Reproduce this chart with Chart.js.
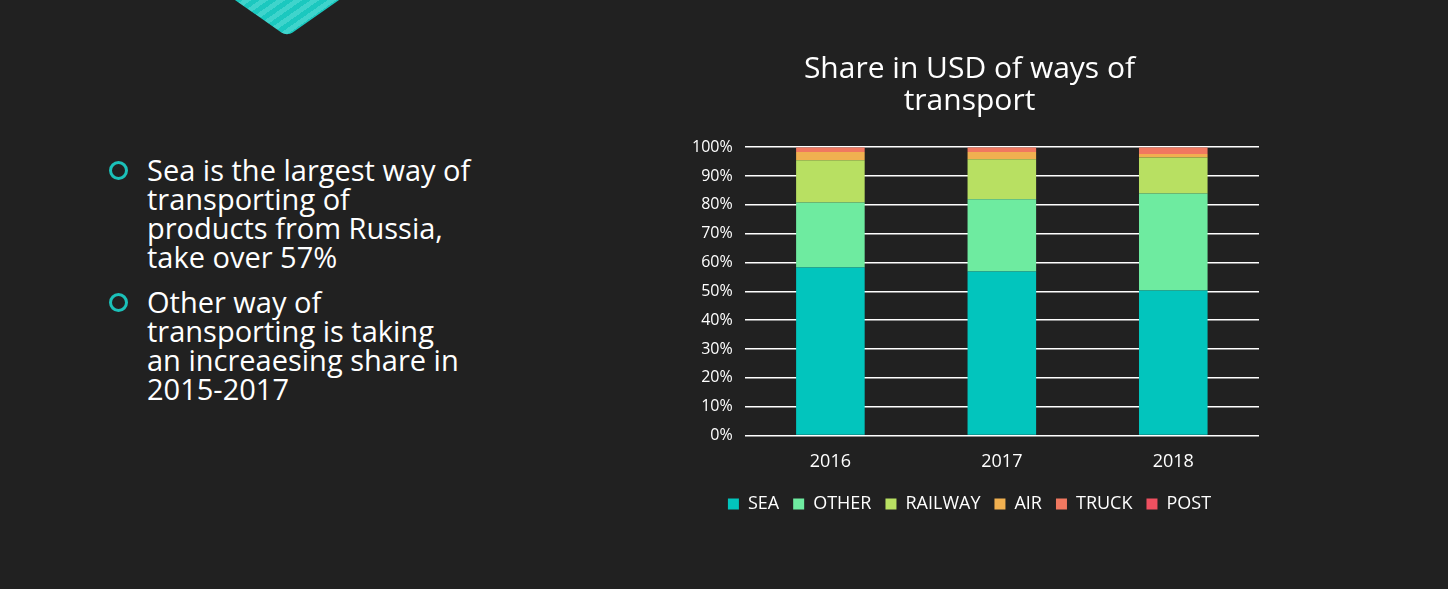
<!DOCTYPE html>
<html>
<head>
<meta charset="utf-8">
<script src="https://cdn.jsdelivr.net/npm/chart.js@4/dist/chart.umd.min.js"></script>
<style>
  html, body { margin: 0; padding: 0; }
  body {
    width: 1448px; height: 589px; overflow: hidden;
    background: #212121; position: relative;
    font-family: "Segoe Print", "Open Sans", sans-serif; color: #fff;
  }
  .deco {
    position: absolute; left: 232px; top: -73px; width: 110px; height: 110px;
    border-radius: 8px;
    background: repeating-linear-gradient(90deg, #1bc8bf 0 6px, #3fd4cc 6px 12px);
    transform: scaleY(0.7) rotate(45deg);
  }
  .bullets { position: absolute; left: 106px; top: 155px; width: 420px; }
  .item { position: relative; padding-left: 41px; font-size: 29px; line-height: 29px; margin-bottom: 16px; }
  .item::before {
    content: ""; position: absolute; left: 3px; top: 6px; width: 13px; height: 13px;
    border: 3px solid #1bc1b9; border-radius: 50%;
  }
  #wrap { position: absolute; left: 640px; top: 40px; width: 660px; height: 500px; }
</style>
</head>
<body>
<div class="deco"></div>
<div class="bullets">
  <div class="item">Sea is the largest way of<br>transporting of<br>products from Russia,<br>take over 57%</div>
  <div class="item">Other way of<br>transporting is taking<br>an increaesing share in<br>2015-2017</div>
</div>
<div id="wrap"><canvas id="chart"></canvas></div>
<script>
const years = ['2016', '2017', '2018'];
const sea = [58.3, 56.9, 50.3];
const other = [22.5, 25.0, 33.6];
const railway = [14.7, 13.9, 12.5];
const air = [2.8, 2.5, 1.2];
const truck = [1.7, 1.7, 2.4];
const post = [0.0, 0.0, 0.0];
const yTicks = [0, 10, 20, 30, 40, 50, 60, 70, 80, 90, 100];

const font = '"Segoe Print", "Open Sans", sans-serif';

const ctx = document.getElementById('chart').getContext('2d');
new Chart(ctx, {
  type: 'bar',
  data: {
    labels: years,
    datasets: [
      { label: 'SEA', data: sea, backgroundColor: '#02c5bd' },
      { label: 'OTHER', data: other, backgroundColor: '#6eeba0' },
      { label: 'RAILWAY', data: railway, backgroundColor: '#b8e062' },
      { label: 'AIR', data: air, backgroundColor: '#f0b050' },
      { label: 'TRUCK', data: truck, backgroundColor: '#f07860' },
      { label: 'POST', data: post, backgroundColor: '#ee5060' }
    ]
  },
  options: {
    responsive: true,
    maintainAspectRatio: false,
    animation: false,
    datasets: { bar: { barPercentage: 0.5, categoryPercentage: 0.8 } },
    layout: { padding: { left: 40, right: 41, top: 13, bottom: 17 } },
    plugins: {
      title: {
        display: true,
        text: ['Share in USD of ways of', 'transport'],
        color: '#ffffff',
        font: { family: font, size: 30, weight: 'normal', lineHeight: 1.07 },
        padding: { top: 0, bottom: 30 }
      },
      legend: {
        position: 'bottom',
        labels: {
          color: '#ffffff',
          boxWidth: 11, boxHeight: 11,
          padding: 14,
          font: { family: font, size: 18 }
        }
      },
      tooltip: { enabled: false }
    },
    scales: {
      x: {
        stacked: true,
        grid: { display: false },
        border: { display: false },
        ticks: { color: '#ffffff', padding: 8, font: { family: font, size: 18 } }
      },
      y: {
        stacked: true,
        min: 0, max: 100,
        afterBuildTicks: axis => { axis.ticks = yTicks.map(v => ({ value: v })); },
        grid: { color: '#ffffff', lineWidth: 1.5, drawTicks: false },
        border: { display: false },
        ticks: { color: '#ffffff', padding: 12, callback: v => v + '%', font: { family: font, size: 16 } }
      }
    }
  }
});
</script>
</body>
</html>
